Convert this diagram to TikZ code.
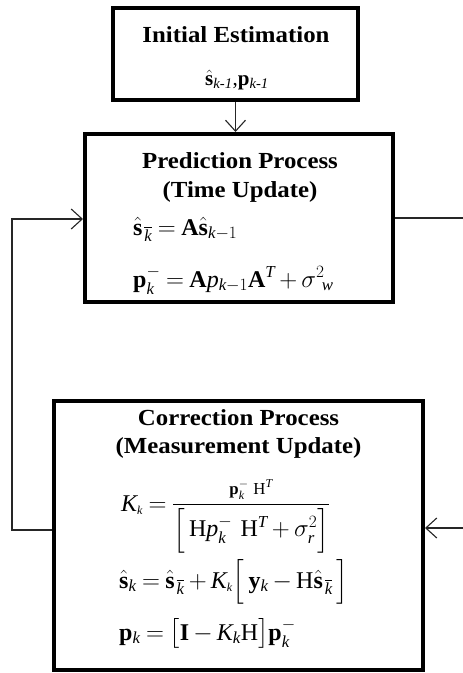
\documentclass[tikz,border=0pt]{standalone}
\usepackage{amsmath}
\usepackage{fontspec}
\setmainfont{Liberation Serif}
\newfontfamily\ttlfont[FakeStretch=1.08]{Liberation Serif}
\usetikzlibrary{arrows.meta}
\newcommand{\mi}[1]{\mathit{#1}}
\newcommand{\bv}[1]{\mathbf{#1}}
\newcommand{\sbk}{\mkern2mu\overline{\mi{k}}}
\thickmuskip=4mu plus 5mu\relax
\medmuskip=3mu plus 2mu minus 3mu\relax
\tikzset{
  x=1pt, y=-1pt,
  box/.style={draw, line width=4pt, inner sep=0pt},
  conn/.style={line width=1.2pt, draw=black!85},
  tipb/.style={-{Straight Barb[length=11pt,width=20pt,line width=1.1pt]}},
  title/.style={font=\ttlfont\bfseries\fontsize{23}{27}\selectfont, anchor=base, inner sep=0pt},
  eqn/.style={font=\fontsize{24}{28}\selectfont, anchor=base west, inner sep=0pt}
}
\begin{document}
\begin{tikzpicture}
\useasboundingbox (0,0) rectangle (463,673);
% boxes
\node[box, minimum width=245pt, minimum height=92pt] (init) at (235.5,54) {};
\node[box, minimum width=308pt, minimum height=168pt] (pred) at (239,218) {};
\node[box, minimum width=369pt, minimum height=269pt] (corr) at (238.5,535.5) {};
% initial text
\node[title] (initT) at (236,42) {Initial Estimation};
\node[font=\fontsize{21}{25}\selectfont, inner sep=0pt, anchor=base] (initS) at (237,85) {$\hat{\bv{s}}_{\textit{k-1}}$,$\bv{p}_{\textit{k-1}}$};
% prediction text
\node[title] (predT1) at (240,168) {Prediction Process};
\node[title] (predT2) at (240,197) {(Time Update)};
\node[eqn] (predE1) at (133,235) {$\hat{\bv{s}}_{\sbk} = \bv{A}\hat{\bv{s}}_{\mi{k}-1}$};
\node[eqn] (predE2) at (133,287) {$\bv{p}^{-}_{\mi{k}} = \bv{A}\mi{p}_{\mi{k}-1}\bv{A}^{\mi{T}} + \sigma^{2}{}_{\!\mi{w}}$};
% correction text
\node[title] (corrT1) at (238.5,425) {Correction Process};
\node[title] (corrT2) at (238.5,453) {(Measurement Update)};
\node[eqn] (corrE1) at (121,511) {$\mi{K}_{\scriptscriptstyle\mi{k}} = \dfrac{\scriptstyle \bv{p}^{-}_{\mi{k}}\mkern5mu\mathrm{H}^{\mi{T}}}{\Big[\,\textstyle\mathrm{H}\mi{p}^{-}_{\mi{k}}\mkern6mu\mathrm{H}^{\mi{T}} + \sigma^{2}_{\mi{r}}\Big]}$};
\node[eqn] (corrE2) at (119,588) {$\hat{\bv{s}}_{\mi{k}} = \hat{\bv{s}}_{\sbk} + \mi{K}_{\scriptscriptstyle\mi{k}}\Big[\,\bv{y}_{\mi{k}} - \mathrm{H}\hat{\bv{s}}_{\sbk}\,\Big]$};
\node[eqn] (corrE3) at (119,640) {$\bv{p}_{\mi{k}} = \big[\bv{I} - \mi{K}_{\mi{k}}\mathrm{H}\big]\bv{p}^{-}_{\mi{k}}$};
% connector coordinates
\coordinate (rA) at (463,218);
\coordinate (rB) at (463,528);
\coordinate (lLow) at (12,530);
\coordinate (lHigh) at (12,219);
% connectors
\draw[conn, tipb] (init.south) -- (init.south |- pred.north);
\draw[conn] (pred.east |- rA) -- (rA);
\draw[conn, tipb] (rB) -- (rB -| corr.east);
\draw[conn, tipb] (corr.west |- lLow) -- (lLow) -- (lHigh) -- (lHigh -| pred.west);
\end{tikzpicture}
\end{document}
